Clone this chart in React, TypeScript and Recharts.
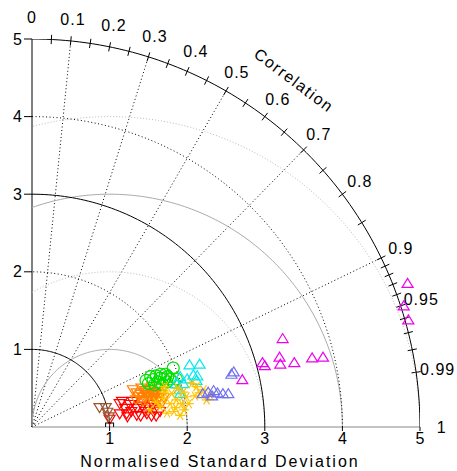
import { ScatterChart, Scatter, XAxis, YAxis, ReferenceLine, ReferenceDot, Label } from 'recharts';

const FONT = '"Liberation Sans", Arial, sans-serif';

// axis ticks
const SD_TICKS = [1, 2, 3, 4, 5];
const CORR_LABELS = [0, 0.1, 0.2, 0.3, 0.4, 0.5, 0.6, 0.7, 0.8, 0.9, 0.95, 0.99, 1];
const CORR_MARKS = [
  0.05, 0.1, 0.15, 0.2, 0.25, 0.3, 0.35, 0.4, 0.45, 0.5, 0.55, 0.6, 0.65, 0.7, 0.75, 0.8, 0.85,
  0.9, 0.91, 0.92, 0.93, 0.94, 0.95, 0.96, 0.97, 0.98, 0.99,
];
const CORR_RAYS = [0.1, 0.3, 0.5, 0.7, 0.9];
const SD_SOLID = [1, 3, 5];
const SD_DOTTED = [2, 4];
const RMS_SOLID = [1, 3];
const RMS_DOTTED = [2, 4];

// models: normalised SD along x, y (polar coordinates of the Taylor plot)
const reference = [{ x: 1, y: 0 }];
const brown = [
  { x: 0.87, y: 0.25 }, { x: 0.95, y: 0.25 }, { x: 0.97, y: 0.19 }, { x: 0.99, y: 0.13 },
];
const red = [
  { x: 1.0, y: 0.1 }, { x: 1.13, y: 0.3 }, { x: 1.13, y: 0.17 }, { x: 1.22, y: 0.17 },
  { x: 1.26, y: 0.29 }, { x: 1.35, y: 0.24 }, { x: 1.46, y: 0.2 }, { x: 1.35, y: 0.15 },
  { x: 1.16, y: 0.33 }, { x: 1.23, y: 0.13 }, { x: 1.4, y: 0.14 }, { x: 1.48, y: 0.17 },
  { x: 1.54, y: 0.14 }, { x: 1.65, y: 0.2 }, { x: 1.3, y: 0.33 }, { x: 1.28, y: 0.2 },
  { x: 1.42, y: 0.27 }, { x: 1.5, y: 0.25 }, { x: 1.58, y: 0.22 }, { x: 1.6, y: 0.14 },
  { x: 1.2, y: 0.24 }, { x: 1.56, y: 0.29 },
];
const orange = [
  { x: 1.3, y: 0.48 }, { x: 1.41, y: 0.5 }, { x: 1.37, y: 0.39 }, { x: 1.45, y: 0.45 },
  { x: 1.5, y: 0.42 }, { x: 1.55, y: 0.4 }, { x: 1.48, y: 0.35 }, { x: 1.52, y: 0.48 },
  { x: 1.6, y: 0.45 }, { x: 1.58, y: 0.38 }, { x: 1.62, y: 0.33 }, { x: 1.66, y: 0.42 },
  { x: 1.7, y: 0.38 }, { x: 1.43, y: 0.33 }, { x: 1.35, y: 0.44 }, { x: 1.55, y: 0.52 },
  { x: 1.64, y: 0.5 }, { x: 1.4, y: 0.42 }, { x: 1.47, y: 0.4 }, { x: 1.53, y: 0.36 },
  { x: 1.57, y: 0.44 }, { x: 1.34, y: 0.35 }, { x: 1.68, y: 0.32 }, { x: 1.44, y: 0.38 },
  { x: 1.51, y: 0.39 }, { x: 1.59, y: 0.41 }, { x: 1.63, y: 0.37 }, { x: 1.46, y: 0.47 },
];
const green = [
  { x: 1.82, y: 0.76 }, { x: 1.75, y: 0.65 }, { x: 1.65, y: 0.63 }, { x: 1.56, y: 0.61 },
  { x: 1.5, y: 0.56 }, { x: 1.82, y: 0.58 }, { x: 1.7, y: 0.62 }, { x: 1.6, y: 0.66 },
  { x: 1.53, y: 0.65 }, { x: 1.47, y: 0.6 }, { x: 1.62, y: 0.58 }, { x: 1.68, y: 0.55 },
  { x: 1.78, y: 0.62 }, { x: 1.74, y: 0.58 }, { x: 1.86, y: 0.62 }, { x: 1.58, y: 0.55 },
  { x: 1.72, y: 0.68 }, { x: 1.66, y: 0.68 },
];
const cyan = [
  { x: 2.03, y: 0.8 }, { x: 2.16, y: 0.81 }, { x: 2.08, y: 0.67 }, { x: 2.13, y: 0.66 },
  { x: 1.91, y: 0.65 }, { x: 1.91, y: 0.43 }, { x: 1.86, y: 0.56 }, { x: 2.12, y: 0.6 },
  { x: 1.95, y: 0.56 }, { x: 1.9, y: 0.48 }, { x: 2.0, y: 0.62 },
];
const gold = [
  { x: 1.71, y: 0.52 }, { x: 1.86, y: 0.35 }, { x: 1.93, y: 0.3 }, { x: 1.69, y: 0.37 },
  { x: 2.21, y: 0.48 }, { x: 2.25, y: 0.35 }, { x: 2.06, y: 0.56 }, { x: 2.12, y: 0.52 },
  { x: 1.8, y: 0.43 }, { x: 1.99, y: 0.39 }, { x: 1.91, y: 0.15 }, { x: 1.65, y: 0.26 },
  { x: 1.52, y: 0.22 }, { x: 1.74, y: 0.18 }, { x: 1.85, y: 0.25 }, { x: 1.95, y: 0.45 },
  { x: 2.02, y: 0.3 }, { x: 2.1, y: 0.4 }, { x: 1.78, y: 0.3 }, { x: 1.6, y: 0.32 },
  { x: 1.88, y: 0.5 }, { x: 2.3, y: 0.4 }, { x: 2.16, y: 0.44 }, { x: 1.96, y: 0.22 },
  { x: 1.7, y: 0.45 }, { x: 1.83, y: 0.2 },
];
const slate = [
  { x: 2.57, y: 0.68 }, { x: 2.6, y: 0.71 }, { x: 2.2, y: 0.43 }, { x: 2.27, y: 0.45 },
  { x: 2.34, y: 0.47 }, { x: 2.39, y: 0.44 }, { x: 2.46, y: 0.43 }, { x: 2.53, y: 0.43 },
  { x: 2.32, y: 0.4 },
];
const magenta = [
  { x: 4.84, y: 1.85 }, { x: 4.79, y: 1.56 }, { x: 4.85, y: 1.38 }, { x: 3.23, y: 1.14 },
  { x: 2.97, y: 0.83 }, { x: 3.0, y: 0.79 }, { x: 3.19, y: 0.9 }, { x: 3.2, y: 0.81 },
  { x: 3.38, y: 0.83 }, { x: 3.61, y: 0.89 }, { x: 3.75, y: 0.9 }, { x: 2.71, y: 0.61 },
];

const polar = (r: number, c: number) => ({ x: r * c, y: r * Math.sqrt(1 - c * c) });

function sdArc(r: number) {
  const pts = [];
  for (let i = 0; i <= 90; i++) {
    const a = (i * Math.PI) / 180;
    pts.push({ x: r * Math.cos(a), y: r * Math.sin(a) });
  }
  return pts;
}

function rmsArc(R: number) {
  const end = R > 1 ? Math.acos(-1 / R) : Math.PI;
  const pts = [];
  for (let i = 0; i <= 120; i++) {
    const a = (end * i) / 120;
    pts.push({ x: 1 + R * Math.cos(a), y: R * Math.sin(a) });
  }
  return pts;
}

const noDot = () => <g />;

const triUp = (color: string) => (p: any) => (
  <path
    d={`M${p.cx - 5.5},${p.cy + 4} L${p.cx + 5.5},${p.cy + 4} L${p.cx},${p.cy - 5} Z`}
    fill="none" stroke={color} strokeWidth={1.2}
  />
);
const triDown = (color: string) => (p: any) => (
  <path
    d={`M${p.cx - 5.5},${p.cy - 4} L${p.cx + 5.5},${p.cy - 4} L${p.cx},${p.cy + 5} Z`}
    fill="none" stroke={color} strokeWidth={1.2}
  />
);
const ring = (color: string) => (p: any) => (
  <circle cx={p.cx} cy={p.cy} r={6} fill="none" stroke={color} strokeWidth={1.2} />
);
const star = (color: string) => (p: any) => (
  <path
    d={`M${p.cx - 5},${p.cy} L${p.cx + 5},${p.cy} M${p.cx - 3},${p.cy - 4.5} L${p.cx + 3},${p.cy + 4.5} M${p.cx + 3},${p.cy - 4.5} L${p.cx - 3},${p.cy + 4.5}`}
    stroke={color} strokeWidth={1.2}
  />
);
const square = (p: any) => (
  <rect x={p.cx - 4} y={p.cy - 4} width={8} height={8} fill="none" stroke="#000" strokeWidth={1} />
);

const corrText = (label: string) => (p: any) => (
  <text x={p.cx} y={p.cy} textAnchor="middle" dominantBaseline="central" fontSize={16}
    fontFamily={FONT} letterSpacing={1} fill="#000">{label}</text>
);

export default function App() {
  return (
    <div style={{ position: 'absolute', left: 0, top: 0, width: 457, height: 471, background: '#fff' }}>
      <ScatterChart width={457} height={471} margin={{ top: 39, right: 37, left: 0, bottom: 0 }}>
        <XAxis type="number" dataKey="x" domain={[0, 5]} ticks={SD_TICKS} allowDataOverflow
          height={44} axisLine={{ stroke: '#888' }} tickLine={{ stroke: '#000' }} tickSize={4}
          tick={{ fill: '#000', fontSize: 16, fontFamily: FONT }}>
          <Label value="Normalised Standard Deviation" position="insideBottom" offset={4} dx={-6}
            style={{ fontSize: 16, fontFamily: FONT, letterSpacing: 2, fill: '#000' }} />
        </XAxis>
        <YAxis type="number" dataKey="y" domain={[0, 5]} ticks={SD_TICKS} allowDataOverflow
          width={32} axisLine={{ stroke: '#000' }} tickLine={{ stroke: '#000' }} tickSize={8}
          tick={{ fill: '#000', fontSize: 16, fontFamily: FONT }} />

        {RMS_SOLID.map((R) => (
          <Scatter key={`rs${R}`} data={rmsArc(R)} line={{ stroke: '#aaa', strokeWidth: 1 }}
            shape={noDot} isAnimationActive={false} />
        ))}
        {RMS_DOTTED.map((R) => (
          <Scatter key={`rd${R}`} data={rmsArc(R)} line={{ stroke: '#bbb', strokeWidth: 1, strokeDasharray: '1 2' }}
            shape={noDot} isAnimationActive={false} />
        ))}
        {SD_DOTTED.map((r) => (
          <Scatter key={`sd${r}`} data={sdArc(r)} line={{ stroke: '#000', strokeWidth: 1, strokeDasharray: '1 2.5' }}
            shape={noDot} isAnimationActive={false} />
        ))}
        {SD_SOLID.map((r) => (
          <Scatter key={`ss${r}`} data={sdArc(r)} line={{ stroke: '#000', strokeWidth: 1 }}
            shape={noDot} isAnimationActive={false} />
        ))}

        {CORR_RAYS.map((c) => (
          <ReferenceLine key={`ray${c}`} segment={[{ x: 0, y: 0 }, polar(5, c)]} stroke="#000"
            strokeDasharray="1 2.5" ifOverflow="visible" />
        ))}
        {CORR_MARKS.map((c) => (
          <ReferenceLine key={`tk${c}`} segment={[polar(4.94, c), polar(5.06, c)]} stroke="#000"
            ifOverflow="visible" />
        ))}
        {CORR_LABELS.map((c) => {
          const p = polar(5.28, c);
          return (
            <ReferenceDot key={`cl${c}`} x={p.x} y={p.y} r={1} ifOverflow="visible"
              shape={corrText(String(c))} />
          );
        })}
        <ReferenceDot x={3.376} y={4.467} r={1} ifOverflow="visible"
          shape={(p: any) => (
            <text x={p.cx} y={p.cy} textAnchor="middle" dominantBaseline="central" fontSize={16}
              fontFamily={FONT} letterSpacing={1.5} fill="#000"
              transform={`rotate(37 ${p.cx} ${p.cy})`}>Correlation</text>
          )} />

        <Scatter data={red} shape={triDown('#ff0000')} isAnimationActive={false} />
        <Scatter data={orange} shape={triDown('#ff8000')} isAnimationActive={false} />
        <Scatter data={brown} shape={triDown('#a0522d')} isAnimationActive={false} />
        <Scatter data={green} shape={ring('#00e000')} isAnimationActive={false} />
        <Scatter data={cyan} shape={triUp('#00e8f0')} isAnimationActive={false} />
        <Scatter data={gold} shape={star('#ffc400')} isAnimationActive={false} />
        <Scatter data={slate} shape={triUp('#7070f0')} isAnimationActive={false} />
        <Scatter data={magenta} shape={triUp('#ee00ee')} isAnimationActive={false} />
        <Scatter data={reference} shape={square} isAnimationActive={false} />
      </ScatterChart>
    </div>
  );
}
